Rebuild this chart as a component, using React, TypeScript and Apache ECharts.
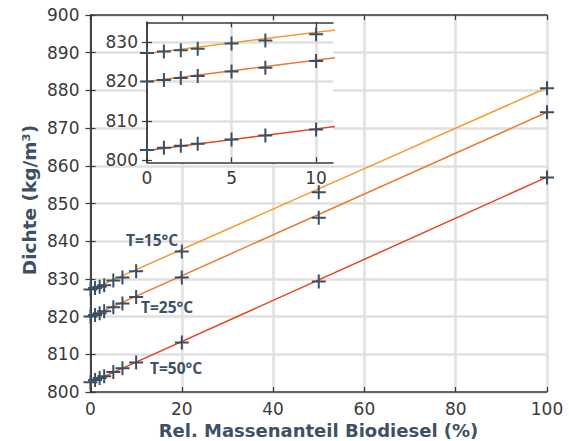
import React, { useEffect, useRef } from "react";
import * as echarts from "echarts";

// Rel. Massenanteil Biodiesel (%)
const massFraction = [0, 1, 2, 3, 5, 7, 10, 20, 50, 100];
// Dichte (kg/m³) measured
const density15 = [827.2, 827.6, 827.9, 828.3, 829.6, 830.4, 832.0, 837.3, 853.0, 880.6];
const density25 = [820.0, 820.4, 820.9, 821.4, 822.5, 823.5, 825.2, 830.4, 846.2, 874.2];
const density50 = [802.6, 803.2, 803.7, 804.2, 805.3, 806.3, 807.8, 813.1, 829.3, 856.9];
// linear fit lines (value at x = 0 and x = 100)
const fitX = [0, 100];
const fit15 = [827.1, 880.7];
const fit25 = [820.0, 874.2];
const fit50 = [802.5, 857.0];
const seriesNames = ["T=15°C", "T=25°C", "T=50°C"];
const lineColors = ["#f39c2b", "#ee7830", "#e5461f"];
// inset
const insetXMax = 11;
const insetXTicks = [0, 5, 10];
const insetYTicks = [800, 810, 820, 830];
const insetYRange = [799.5, 835];

const markerColor = "#3b4f64";
const plus = "path://M6,0H8V14H6ZM0,6H14V8H0Z";
const tickFont = "DejaVu Sans";
const gridColor = "#e0e0e0";
const axisColor = "#3a3a3a";
const titleColor = "#3d5166";

function pts(ys: number[], maxX = Infinity) {
  return massFraction
    .map((x, i) => [x, ys[i]])
    .filter((p) => p[0] <= maxX);
}
function fit(ys: number[]) {
  return fitX.map((x, i) => [x, ys[i]]);
}

export default function App() {
  const ref = useRef<HTMLDivElement>(null);
  useEffect(() => {
    document.body.style.margin = "0";
    const chart = echarts.init(ref.current!, null, { renderer: "svg" });
    const labelStyle = {
      fontFamily: tickFont,
      fontSize: 17,
      color: "#3a3a3a",
      fontWeight: "normal" as any,
    };
    const axisLine = { show: true, lineStyle: { color: axisColor, width: 1.5 } };
    const tick = { show: true, inside: true, length: 5, lineStyle: { color: axisColor, width: 1.2 } };
    const fits = [fit15, fit25, fit50];
    const dens = [density15, density25, density50];
    const series: any[] = [];
    // main grid
    fits.forEach((f, i) =>
      series.push({
        type: "line",
        name: seriesNames[i] + " fit",
        xAxisIndex: 0,
        yAxisIndex: 0,
        data: fit(f),
        symbol: "none",
        lineStyle: { color: lineColors[i], width: 1.5 },
        z: 2,
      })
    );
    dens.forEach((d, i) =>
      series.push({
        type: "scatter",
        name: seriesNames[i],
        xAxisIndex: 0,
        yAxisIndex: 0,
        data: pts(d),
        symbol: plus,
        symbolSize: 14,
        itemStyle: { color: markerColor, opacity: 1 },
        z: 3,
      })
    );
    // inset grid lines
    series.push({
      type: "line",
      xAxisIndex: 2,
      yAxisIndex: 2,
      data: [],
      z: 7,
      silent: true,
      markLine: {
        silent: true,
        symbol: "none",
        label: { show: false },
        lineStyle: { color: gridColor, width: 2.5, type: "solid" },
        data: [
          ...insetYTicks.slice(1).map((v) => ({ yAxis: v })),
          ...insetXTicks.slice(1).map((v) => ({ xAxis: v })),
        ],
      },
    });
    fits.forEach((f, i) =>
      series.push({
        type: "line",
        xAxisIndex: 2,
        yAxisIndex: 2,
        data: fit(f),
        symbol: "none",
        clip: true,
        lineStyle: { color: lineColors[i], width: 1.5 },
        z: 8,
      })
    );
    dens.forEach((d, i) =>
      series.push({
        type: "scatter",
        xAxisIndex: 2,
        yAxisIndex: 2,
        data: pts(d, insetXMax),
        symbol: plus,
        symbolSize: 14,
        itemStyle: { color: markerColor, opacity: 1 },
        z: 9,
      })
    );

    chart.setOption({
      animation: false,
      backgroundColor: "#ffffff",
      grid: [
        { left: 90.5, top: 15, width: 456.5, height: 377, containLabel: false, outerBoundsMode: "none" },
        {
          left: 147,
          top: 22.3,
          width: 186,
          height: 140,
          show: true,
          backgroundColor: "#ffffff",
          borderWidth: 0,
          z: 5,
          containLabel: false,
          outerBoundsMode: "none",
        },
      ],
      xAxis: [
        {
          type: "value",
          gridIndex: 0,
          position: "bottom",
          min: 0,
          max: 100,
          interval: 20,
          axisLine,
          axisTick: tick,
          axisLabel: { ...labelStyle, margin: 8 },
          splitLine: { show: true, lineStyle: { color: gridColor, width: 2.5 } },
        },
        {
          type: "value",
          gridIndex: 0,
          position: "top",
          min: 0,
          max: 100,
          interval: 20,
          axisLine,
          axisTick: tick,
          axisLabel: { show: false },
          splitLine: { show: false },
        },
        {
          type: "value",
          gridIndex: 1,
          position: "bottom",
          min: 0,
          max: insetXMax,
          z: 6,
          axisLine,
          axisTick: { ...tick, customValues: insetXTicks },
          axisLabel: { ...labelStyle, margin: 7, customValues: insetXTicks },
          splitLine: { show: false },
        },
        {
          type: "value",
          gridIndex: 1,
          position: "top",
          min: 0,
          max: insetXMax,
          z: 6,
          axisLine,
          axisTick: { ...tick, customValues: insetXTicks },
          axisLabel: { show: false },
          splitLine: { show: false },
        },
      ],
      yAxis: [
        {
          type: "value",
          gridIndex: 0,
          position: "left",
          min: 800,
          max: 900,
          interval: 10,
          axisLine,
          axisTick: tick,
          axisLabel: { ...labelStyle, margin: 11 },
          splitLine: { show: true, lineStyle: { color: gridColor, width: 2.5 } },
        },
        {
          type: "value",
          gridIndex: 0,
          position: "right",
          min: 800,
          max: 900,
          interval: 10,
          axisLine,
          axisTick: tick,
          axisLabel: { show: false },
          splitLine: { show: false },
        },
        {
          type: "value",
          gridIndex: 1,
          position: "left",
          min: insetYRange[0],
          max: insetYRange[1],
          z: 6,
          axisLine,
          axisTick: { ...tick, customValues: insetYTicks },
          axisLabel: { ...labelStyle, margin: 9, customValues: insetYTicks },
          splitLine: { show: false },
        },
        {
          type: "value",
          gridIndex: 1,
          position: "right",
          min: insetYRange[0],
          max: insetYRange[1],
          z: 6,
          axisLine,
          axisTick: { ...tick, customValues: insetYTicks },
          axisLabel: { show: false },
          splitLine: { show: false },
        },
      ],
      graphic: [
        {
          type: "text",
          x: 29,
          y: 200,
          rotation: Math.PI / 2,
          style: {
            text: "Dichte (kg/m³)",
            fontFamily: "DejaVu Sans",
            fontWeight: "bold",
            fontSize: 18.5,
            fill: titleColor,
            align: "center",
            verticalAlign: "middle",
          },
        },
        {
          type: "text",
          x: 318.5,
          y: 430,
          style: {
            text: "Rel. Massenanteil Biodiesel (%)",
            fontFamily: "DejaVu Sans",
            fontWeight: "bold",
            fontSize: 18,
            fill: titleColor,
            align: "center",
            verticalAlign: "middle",
          },
        },
        ...[
          [126, 240],
          [141, 307],
          [150, 368],
        ].map((p, i) => ({
          type: "text",
          x: p[0],
          y: p[1],
          z: 20,
          style: {
            text: seriesNames[i],
            fontFamily: "Open Sans",
            fontWeight: "bold",
            fontSize: 15.5,
            fill: titleColor,
            align: "left",
            verticalAlign: "middle",
          },
        })),
      ],
      series,
    });
    return () => chart.dispose();
  }, []);
  return (
    <div
      ref={ref}
      style={{ position: "fixed", left: 0, top: 0, width: 569, height: 441 }}
    />
  );
}
